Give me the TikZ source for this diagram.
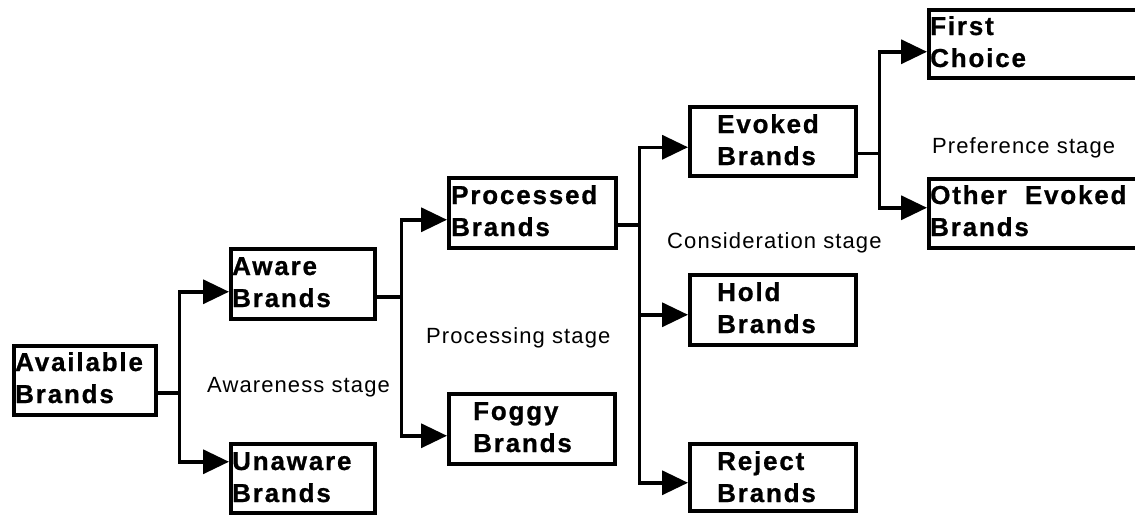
\documentclass[tikz,border=0pt]{standalone}
\usepackage{fontspec}
\setmainfont{Liberation Sans}
\newfontfamily\boxfont{Liberation Sans}[LetterSpace=7, BoldFeatures={FakeBold=0.8}]
\newfontfamily\stagefont{Liberation Sans}[LetterSpace=5]
\usetikzlibrary{arrows.meta}

\tikzset{
  brandbox/.style={draw, line width=3.5pt, inner sep=0pt, anchor=north west,
    minimum width=#1, minimum height=71pt},
  brandbox/.default=145pt,
  boxtext/.style={anchor=base west, inner sep=0pt,
    font=\boxfont\bfseries\fontsize{26}{32}\selectfont},
  stagetext/.style={anchor=base west, inner sep=0pt,
    font=\stagefont\fontsize{22}{25}\selectfont},
  link/.style={line width=3.5pt},
  arrowlink/.style={line width=3.5pt, -{Triangle[length=26pt,width=24pt]}},
}

\newcommand{\twolines}[2]{\parbox[t]{220pt}{#1\\#2}}

\begin{document}
\begin{tikzpicture}[x=1pt,y=-1pt]
\useasboundingbox (0,0) rectangle (1135,515);
\clip (0,0) rectangle (1135,515);

% brand boxes
\node[brandbox=142pt, minimum height=69pt] (avail)   at (12,344)  {};
\node[brandbox=144pt, minimum height=70pt] (aware)   at (229,247) {};
\node[brandbox=144pt, minimum height=69pt] (unaware) at (229,442) {};
\node[brandbox=167pt, minimum height=70pt] (proc)    at (447,176) {};
\node[brandbox=166pt, minimum height=70pt] (foggy)   at (447,392) {};
\node[brandbox=166pt, minimum height=69pt] (evoked)  at (688,105) {};
\node[brandbox=166pt, minimum height=70pt] (hold)    at (688,273) {};
\node[brandbox=166pt, minimum height=67pt] (reject)  at (688,442) {};
\node[brandbox=210pt, minimum height=68pt] (first)   at (927,8)   {};
\node[brandbox=210pt, minimum height=69pt] (other)   at (927,177) {};

% box labels
\node[boxtext] (availT)   at ([xshift=3pt,yshift=-27pt]avail.north west)   {\twolines{Available}{Brands}};
\node[boxtext] (awareT)   at ([xshift=3pt,yshift=-28pt]aware.north west)   {\twolines{Aware}{Brands}};
\node[boxtext] (unawareT) at ([xshift=3pt,yshift=-28pt]unaware.north west) {\twolines{Unaware}{Brands}};
\node[boxtext] (procT)    at ([xshift=4pt,yshift=-28pt]proc.north west)    {\twolines{Processed}{Brands}};
\node[boxtext] (foggyT)   at ([xshift=26pt,yshift=-28pt]foggy.north west)  {\twolines{Foggy}{Brands}};
\node[boxtext] (evokedT)  at ([xshift=29pt,yshift=-28pt]evoked.north west) {\twolines{Evoked}{Brands}};
\node[boxtext] (holdT)    at ([xshift=29pt,yshift=-28pt]hold.north west)   {\twolines{Hold}{Brands}};
\node[boxtext] (rejectT)  at ([xshift=29pt,yshift=-28pt]reject.north west) {\twolines{Reject}{Brands}};
\node[boxtext] (firstT)   at ([xshift=3pt,yshift=-27pt]first.north west)   {\twolines{First}{Choice}};
\node[boxtext] (otherT)   at ([xshift=3pt,yshift=-27pt]other.north west)   {\twolines{Other\ \ Evoked}{Brands}};

% stage labels
\node[stagetext] (awareness)     at (207,392) {Awareness stage};
\node[stagetext] (processing)    at (426,343) {Processing stage};
\node[stagetext] (consideration) at (667,248) {Consideration stage};
\node[stagetext] (preference)    at (932,153) {Preference stage};

% awareness split
\draw[link] ([yshift=-12.5pt]avail.east) -- ++(22pt,0) coordinate (j1);
\draw[arrowlink] (j1) |- ([yshift=-8pt]aware.west);
\draw[arrowlink] (j1) |- ([yshift=16.5pt]unaware.west);

% processing split
\draw[link] ([yshift=-13pt]aware.east) -- ++(25pt,0) coordinate (j2);
\draw[arrowlink] (j2) |- ([yshift=-7pt]proc.west);
\draw[arrowlink] (j2) |- ([yshift=-7pt]foggy.west);

% consideration split
\draw[link] ([yshift=-12pt]proc.east) -- ++(22pt,0) coordinate (j3);
\draw[arrowlink] (j3) |- ([yshift=-6pt]evoked.west);
\draw[arrowlink] (j3) |- ([yshift=-5pt]hold.west);
\draw[arrowlink] (j3) |- ([yshift=-5.5pt]reject.west);

% preference split
\draw[link] ([yshift=-12pt]evoked.east) -- ++(22pt,0) coordinate (j4);
\draw[arrowlink] (j4) |- ([yshift=-8pt]first.west);
\draw[arrowlink] (j4) |- ([yshift=5.5pt]other.west);
\end{tikzpicture}
\end{document}
